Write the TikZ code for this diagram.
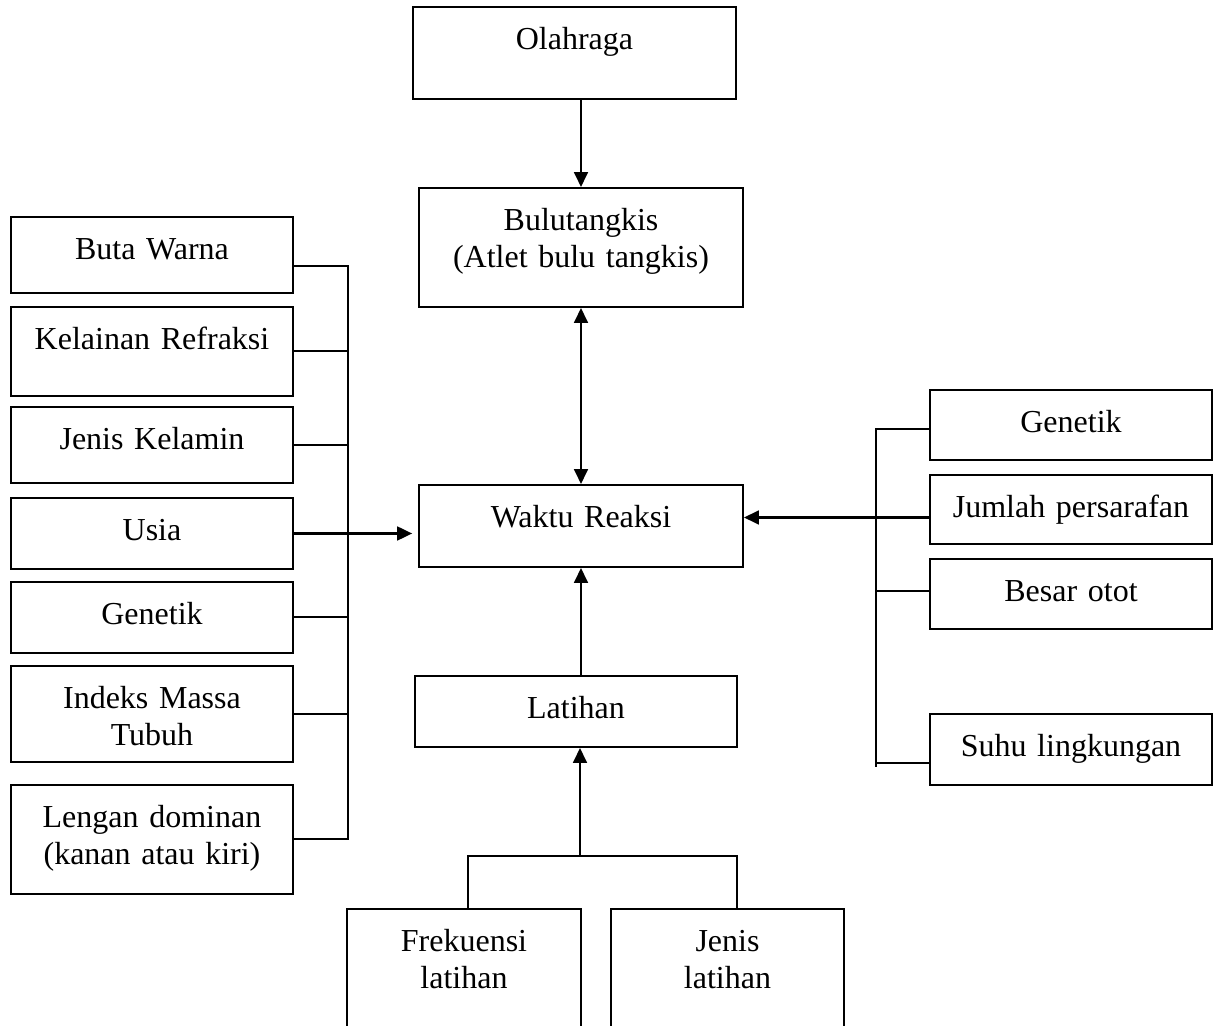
\documentclass[tikz,border=0pt]{standalone}
\usepackage{fontspec}
\setmainfont{Liberation Serif}
\usepackage{tikz}
\usetikzlibrary{calc,arrows.meta}

\tikzset{
  kotak/.style 2 args={draw, line width=0.75pt, inner sep=0pt,
    minimum width=#1*0.375pt, minimum height=#2*0.375pt},
  teks/.style={anchor=north, inner sep=0pt, yshift=-7pt, text width=6cm,
    align=center, text height=9pt, font=\fontsize{12}{13.9}\selectfont},
  garis/.style={line width=0.75pt},
  panah/.style={line width=0.8pt}
}

\begin{document}
\begin{tikzpicture}[x=0.375pt,y=-0.375pt,>={Triangle[length=5.6pt,width=5.2pt]}]
    \useasboundingbox (0,0) rectangle (1219,1026);
    \clip (0,0) rectangle (1219,1026);
    % kolom tengah
    \node[kotak={323}{92}] (olah) at (574.5,53) {};
    \node[teks] at (olah.north) {Olahraga};
    \node[kotak={324}{119}] (bulu) at (581,247.5) {};
    \node[teks] at (bulu.north) {Bulutangkis\\(Atlet bulu tangkis)};
    \node[kotak={324}{82}] (waktu) at (581,526) {};
    \node[teks] at (waktu.north) {Waktu Reaksi};
    \node[kotak={322}{71}] (latihan) at (576,711.5) {};
    \node[teks] at (latihan.north) {Latihan};
    \node[kotak={234}{131}] (frek) at (464,974.5) {};
    \node[teks] at (frek.north) {Frekuensi\\latihan};
    \node[kotak={233}{131}] (jenislat) at (727.5,974.5) {};
    \node[teks] at (jenislat.north) {Jenis\\latihan};
    % kolom kiri
    \node[kotak={282}{76}] (buta) at (152,255) {};
    \node[teks] at (buta.north) {Buta Warna};
    \node[kotak={282}{89}] (refraksi) at (152,351.5) {};
    \node[teks] at (refraksi.north) {Kelainan Refraksi};
    \node[kotak={282}{76}] (kelamin) at (152,445) {};
    \node[teks] at (kelamin.north) {Jenis Kelamin};
    \node[kotak={282}{71}] (usia) at (152,533.5) {};
    \node[teks] at (usia.north) {Usia};
    \node[kotak={282}{71}] (genkiri) at (152,617.5) {};
    \node[teks] at (genkiri.north) {Genetik};
    \node[kotak={282}{96}] (imt) at (152,714) {};
    \node[teks] at (imt.north) {Indeks Massa\\Tubuh};
    \node[kotak={282}{109}] (lengan) at (152,839.5) {};
    \node[teks] at (lengan.north) {Lengan dominan\\(kanan atau kiri)};
    % kolom kanan
    \node[kotak={282}{70}] (genkanan) at (1071,425) {};
    \node[teks] at (genkanan.north) {Genetik};
    \node[kotak={282}{69}] (saraf) at (1071,509.5) {};
    \node[teks] at (saraf.north) {Jumlah persarafan};
    \node[kotak={282}{70}] (otot) at (1071,594) {};
    \node[teks] at (otot.north) {Besar otot};
    \node[kotak={282}{71}] (suhu) at (1071,749.5) {};
    \node[teks] at (suhu.north) {Suhu lingkungan};

    \coordinate (buskiri) at (348,0);
    \coordinate (buskanan) at (876,0);
    \coordinate (cabang) at (580,856);

    % panah tengah
    \draw[panah,->] (olah.south -| bulu.north) -- (bulu.north);
    \draw[panah,<->] (bulu.south) -- (waktu.north);
    \draw[panah,->] (latihan.north -| waktu.south) -- (waktu.south);
    \draw[panah,->] (cabang) -- (latihan.south -| cabang);
    \draw[garis] ($(frek.north)+(4,0)$) |- (cabang) -| ($(jenislat.north)+(9.5,0)$);

    % kiri
    \draw[garis] ([yshift=-4pt]buta.east) coordinate (b1) -- (b1 -| buskiri)
        -- (lengan.east -| buskiri) -- (lengan.east);
    \foreach \n in {refraksi,kelamin,genkiri,imt}
        \draw[garis] (\n.east) -- (\n.east -| buskiri);
    \draw[panah,->] (usia.east) -- ([xshift=-2.2pt]waktu.west |- usia.east);

    % kanan
    \draw[garis] ([yshift=-1.5pt]genkanan.west) coordinate (k1) -- (k1 -| buskanan)
        -- ([yshift=-6.5pt]suhu.west -| buskanan);
    \draw[garis] ([yshift=-5pt]suhu.west) coordinate (k4) -- (k4 -| buskanan);
    \draw[garis] ([yshift=1pt]otot.west) coordinate (k3) -- (k3 -| buskanan);
    \draw[panah,->] ([yshift=-3pt]saraf.west) coordinate (k2) -- (k2 -| waktu.east);
\end{tikzpicture}
\end{document}
